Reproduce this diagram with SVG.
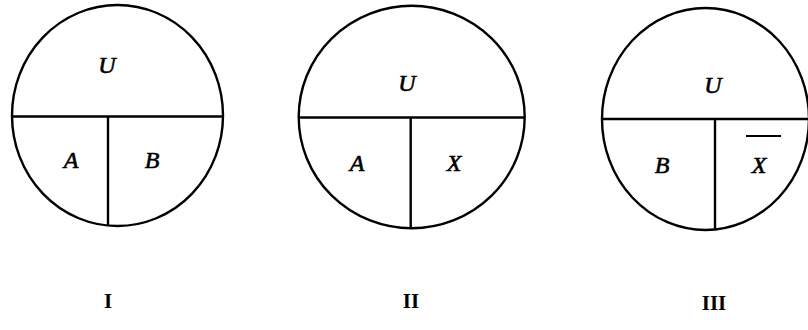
<svg xmlns="http://www.w3.org/2000/svg" width="808" height="330" viewBox="0 0 808 330">
<style>
.c{fill:none;stroke:#000;stroke-width:2.4}
.l{stroke:#000;stroke-width:2.4}
.t{font-family:"Liberation Serif",serif;font-style:italic;font-size:24px;fill:#000;stroke:#000;stroke-width:0.6;text-anchor:middle}
.n{font-family:"Liberation Serif",serif;font-weight:bold;font-size:21px;fill:#000;text-anchor:middle}
</style>
<rect width="808" height="330" fill="#fff"/>
<g id="diagram-I">
<ellipse class="c" cx="117.5" cy="115.5" rx="105.5" ry="110.5"/>
<line class="l" x1="12" y1="116.5" x2="223" y2="116.5"/>
<line class="l" x1="108" y1="116.5" x2="108" y2="226"/>
<text class="t" x="107" y="73">U</text>
<text class="t" x="71" y="168">A</text>
<text class="t" x="152" y="168">B</text>
<text class="n" x="108" y="308">I</text>
</g>
<g id="diagram-II">
<ellipse class="c" cx="411.7" cy="117" rx="113" ry="111.3"/>
<line class="l" x1="298.7" y1="117.5" x2="524.7" y2="117.5"/>
<line class="l" x1="410.7" y1="117.5" x2="410.7" y2="228.3"/>
<text class="t" x="407" y="91">U</text>
<text class="t" x="357" y="171">A</text>
<text class="t" x="454" y="171">X</text>
<text class="n" x="411" y="308">II</text>
</g>
<g id="diagram-III">
<ellipse class="c" cx="705.5" cy="119" rx="103.5" ry="111"/>
<line class="l" x1="602" y1="119" x2="808" y2="119"/>
<line class="l" x1="715" y1="119" x2="715" y2="230"/>
<text class="t" x="713" y="93">U</text>
<text class="t" x="662" y="173">B</text>
<text class="t" x="759" y="173">X</text>
<line class="l" x1="746" y1="136" x2="781" y2="136" style="stroke-width:1.8"/>
<text class="n" x="714" y="310">III</text>
</g>
</svg>
